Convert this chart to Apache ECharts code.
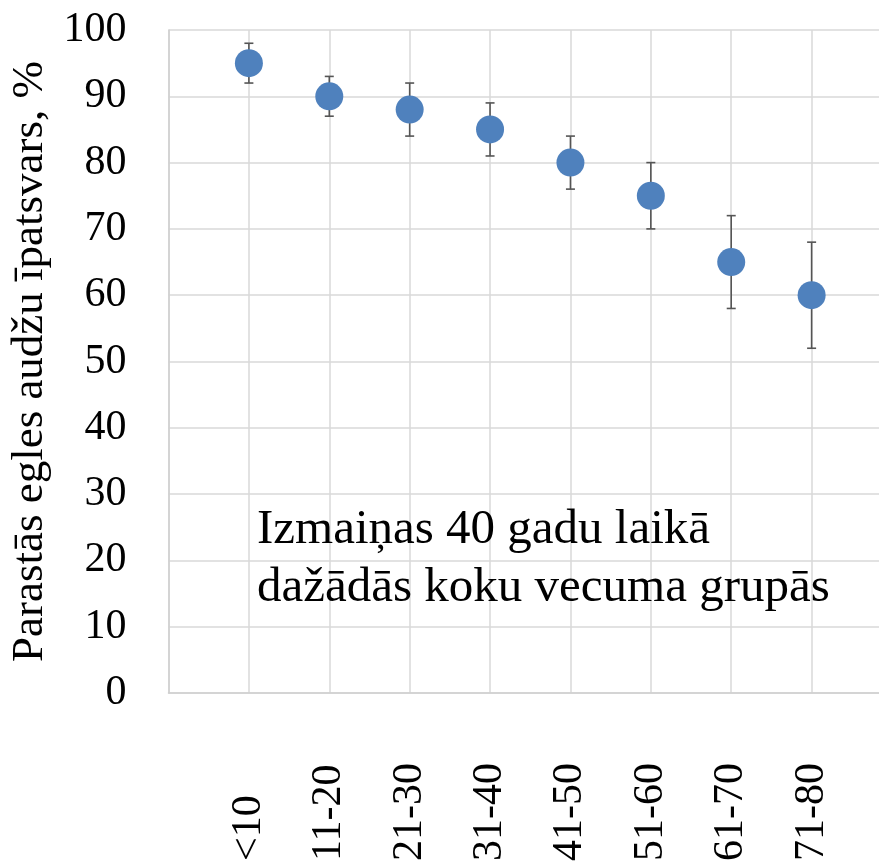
<!DOCTYPE html>
<html>
<head>
<meta charset="utf-8">
<script src="https://cdn.jsdelivr.net/npm/echarts@6/dist/echarts.min.js"></script>
<style>
  html, body { margin: 0; padding: 0; background: #fff; }
  #chart { width: 879px; height: 864px; }
</style>
</head>
<body>
<div id="chart"></div>
<script>
// vecuma grupas un vērtības
const groups = ['<10', '11-20', '21-30', '31-40', '41-50', '51-60', '61-70', '71-80']
const shares = [95, 90, 88, 85, 80, 75, 65, 60]
const lows = [92, 87, 84, 81, 76, 70, 58, 52]
const highs = [98, 93, 92, 89, 84, 80, 72, 68]
const yTicks = [0, 10, 20, 30, 40, 50, 60, 70, 80, 90, 100]

const font = "'Liberation Serif', 'Times New Roman', serif"

let points = []
let bars = []
groups.forEach((g, i) => {
  points.push([i + 1, shares[i]])
  bars.push([i + 1, lows[i], highs[i]])
})

let chart = echarts.init(document.getElementById('chart'))
let option = {
  animation: false,
  // labās puses daļa ir nogriezta, tāpēc režģis iziet ārpus kanvas
  grid: { left: 168.5, right: -13, top: 30, bottom: 171, outerBoundsMode: 'none' },
  xAxis: {
    type: 'value',
    min: 0,
    max: groups.length + 1,
    interval: 1,
    axisLine: { show: true, lineStyle: { color: '#cfcfcf', width: 1.5 } },
    axisTick: { show: false },
    splitLine: { show: true, lineStyle: { color: '#d9d9d9', width: 1.5 } },
    axisLabel: {
      rotate: 90,
      align: 'left',
      verticalAlign: 'middle',
      margin: 168,
      color: '#000',
      fontFamily: font,
      fontSize: 42,
      formatter: v => groups[v - 1] || ''
    }
  },
  yAxis: {
    type: 'value',
    min: yTicks[0],
    max: yTicks[yTicks.length - 1],
    interval: 10,
    name: 'Parastās egles audžu īpatsvars, %',
    nameLocation: 'middle',
    nameGap: 106,
    nameTextStyle: { color: '#000', fontFamily: font, fontSize: 45 },
    axisLine: { show: true, lineStyle: { color: '#cfcfcf', width: 1.5 } },
    axisTick: { show: false },
    splitLine: { show: true, lineStyle: { color: '#d9d9d9', width: 1.5 } },
    axisLabel: { margin: 42, color: '#000', fontFamily: font, fontSize: 42 }
  },
  graphic: [
    {
      type: 'text',
      left: 257,
      top: 501,
      style: {
        text: 'Izmaiņas 40 gadu laikā\ndažādās koku vecuma grupās',
        font: '49px ' + font,
        lineHeight: 58,
        fill: '#000'
      },
      z: 10
    }
  ],
  series: [
    {
      type: 'custom',
      data: bars,
      z: 2,
      renderItem: (params, api) => {
        let lo = api.coord([api.value(0), api.value(1)])
        let hi = api.coord([api.value(0), api.value(2)])
        let w = 4.5
        let st = { stroke: '#555555', lineWidth: 1.6 }
        return {
          type: 'group',
          children: [
            { type: 'line', shape: { x1: lo[0], y1: lo[1], x2: hi[0], y2: hi[1] }, style: st },
            { type: 'line', shape: { x1: lo[0] - w, y1: lo[1], x2: lo[0] + w, y2: lo[1] }, style: st },
            { type: 'line', shape: { x1: hi[0] - w, y1: hi[1], x2: hi[0] + w, y2: hi[1] }, style: st }
          ]
        }
      }
    },
    {
      type: 'scatter',
      data: points,
      z: 3,
      symbol: 'circle',
      symbolSize: 28,
      itemStyle: { color: '#4f81bd', opacity: 1 }
    }
  ]
}
chart.setOption(option)
</script>
</body>
</html>
